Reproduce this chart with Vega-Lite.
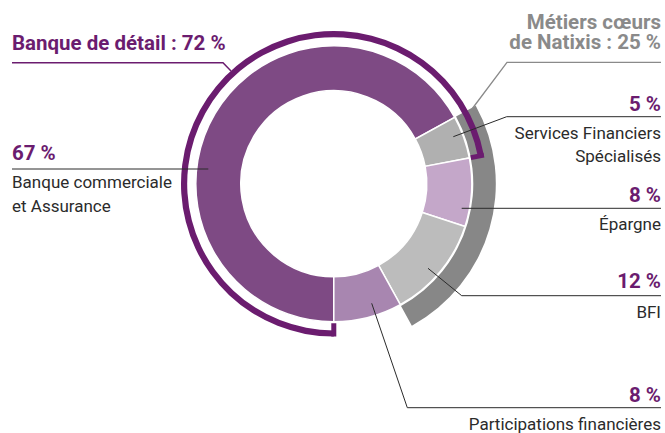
{
  "$schema": "https://vega.github.io/schema/vega-lite/v6.json",
  "width": 665,
  "height": 433,
  "autosize": {"type": "fit", "contains": "padding"},
  "padding": 0,
  "background": "#ffffff",
  "config": {"view": {"stroke": null}},
  "datasets": {
    "segments": [
      {"label": "Banque commerciale et Assurance", "value": 67, "idx": 1},
      {"label": "Services Financiers Spécialisés", "value": 5, "idx": 2},
      {"label": "Épargne", "value": 8, "idx": 3},
      {"label": "BFI", "value": 12, "idx": 4},
      {"label": "Participations financières", "value": 8, "idx": 5}
    ],
    "groups": [
      {"name": "Banque de détail", "start": 0, "end": 72},
      {"name": "Métiers cœurs de Natixis", "start": 67, "end": 92}
    ],
    "leaders": [
      {"id": "bd", "grp": "Banque de détail", "ord": 1, "x": 12, "y": 62.7},
      {"id": "bd", "grp": "Banque de détail", "ord": 2, "x": 223, "y": 62.7},
      {"id": "bd", "grp": "Banque de détail", "ord": 3, "x": 231, "y": 71},
      {"id": "mc", "grp": "Métiers cœurs de Natixis", "ord": 1, "x": 661, "y": 62.3},
      {"id": "mc", "grp": "Métiers cœurs de Natixis", "ord": 2, "x": 507, "y": 62.3},
      {"id": "mc", "grp": "Métiers cœurs de Natixis", "ord": 3, "x": 472, "y": 109},
      {"id": "sfs", "grp": "segment", "ord": 1, "x": 661, "y": 116.7},
      {"id": "sfs", "grp": "segment", "ord": 2, "x": 506.7, "y": 116.7},
      {"id": "sfs", "grp": "segment", "ord": 3, "x": 453.3, "y": 136.7},
      {"id": "ep", "grp": "segment", "ord": 1, "x": 661, "y": 208.3},
      {"id": "ep", "grp": "segment", "ord": 2, "x": 461.7, "y": 208.3},
      {"id": "bfi", "grp": "segment", "ord": 1, "x": 661, "y": 295.7},
      {"id": "bfi", "grp": "segment", "ord": 2, "x": 461.7, "y": 295.7},
      {"id": "bfi", "grp": "segment", "ord": 3, "x": 428, "y": 268.3},
      {"id": "pf", "grp": "segment", "ord": 1, "x": 661, "y": 407.7},
      {"id": "pf", "grp": "segment", "ord": 2, "x": 407.3, "y": 407.7},
      {"id": "pf", "grp": "segment", "ord": 3, "x": 371.7, "y": 303.3},
      {"id": "bca", "grp": "segment", "ord": 1, "x": 12, "y": 169},
      {"id": "bca", "grp": "segment", "ord": 2, "x": 208.3, "y": 169}
    ],
    "labels": [
      {"t": "Banque de détail : 72 %", "role": "group", "side": "left", "x": 12, "y": 49.5},
      {"t": "67 %", "role": "share", "side": "left", "x": 12, "y": 160},
      {"t": "Banque commerciale", "role": "name", "side": "left", "x": 12, "y": 188.3},
      {"t": "et Assurance", "role": "name", "side": "left", "x": 12, "y": 211.7},
      {"t": "Métiers cœurs", "role": "group", "side": "right", "x": 661, "y": 29.3},
      {"t": "de Natixis : 25 %", "role": "group", "side": "right", "x": 661, "y": 49.3},
      {"t": "5 %", "role": "share", "side": "right", "x": 661, "y": 110.7},
      {"t": "Services Financiers", "role": "name", "side": "right", "x": 661, "y": 139.3},
      {"t": "Spécialisés", "role": "name", "side": "right", "x": 661, "y": 161.7},
      {"t": "8 %", "role": "share", "side": "right", "x": 661, "y": 202.3},
      {"t": "Épargne", "role": "name", "side": "right", "x": 661, "y": 230},
      {"t": "12 %", "role": "share", "side": "right", "x": 661, "y": 288.3},
      {"t": "BFI", "role": "name", "side": "right", "x": 661, "y": 317.7},
      {"t": "8 %", "role": "share", "side": "right", "x": 661, "y": 401.7},
      {"t": "Participations financières", "role": "name", "side": "right", "x": 661, "y": 430}
    ]
  },
  "layer": [
    {
      "data": {"name": "segments"},
      "mark": {"type": "arc", "radius": 138, "radius2": 93, "stroke": "#ffffff", "strokeWidth": 1.5},
      "encoding": {
        "x": {"datum": 333.8, "type": "quantitative", "scale": {"domain": [0, 665], "nice": false, "zero": false}, "axis": null},
        "y": {"datum": 183.8, "type": "quantitative", "scale": {"domain": [0, 433], "nice": false, "zero": false, "reverse": true}, "axis": null},
        "theta": {"field": "value", "type": "quantitative", "stack": true, "scale": {"domain": [0, 100], "range": [3.141592653589793, 9.42477796076938]}},
        "order": {"field": "idx", "type": "quantitative"},
        "color": {"field": "label", "type": "nominal", "legend": null,
          "scale": {"domain": ["Banque commerciale et Assurance", "Services Financiers Spécialisés", "Épargne", "BFI", "Participations financières"],
                    "range": ["#7e4a84", "#b0b0b0", "#c4a7c9", "#bcbcbc", "#a886b0"]}}
      }
    },
    {
      "data": {"name": "groups"},
      "transform": [{"filter": "datum.name === 'Métiers cœurs de Natixis'"}],
      "mark": {"type": "arc", "radius": 162, "radius2": 139.5, "fill": "#878787"},
      "encoding": {
        "x": {"datum": 333.8, "type": "quantitative"},
        "y": {"datum": 183.8, "type": "quantitative"},
        "theta": {"field": "start", "type": "quantitative", "scale": {"domain": [0, 100], "range": [3.141592653589793, 9.42477796076938]}},
        "theta2": {"field": "end"}
      }
    },
    {
      "data": {"name": "groups"},
      "transform": [{"filter": "datum.name === 'Banque de détail'"}],
      "mark": {"type": "arc", "radius": 152.8, "radius2": 146.6, "fill": "#6b1c6f"},
      "encoding": {
        "x": {"datum": 333.8, "type": "quantitative"},
        "y": {"datum": 183.8, "type": "quantitative"},
        "theta": {"field": "start", "type": "quantitative", "scale": {"domain": [0, 100], "range": [3.141592653589793, 9.42477796076938]}},
        "theta2": {"field": "end"}
      }
    },
    {
      "data": {"name": "groups"},
      "transform": [{"filter": "datum.name === 'Banque de détail'"}],
      "mark": {"type": "arc", "radius": 152.8, "radius2": 139.5, "stroke": "#6b1c6f", "strokeWidth": 5, "fill": null},
      "encoding": {
        "x": {"datum": 333.8, "type": "quantitative"},
        "y": {"datum": 183.8, "type": "quantitative"},
        "theta": {"field": "start", "type": "quantitative", "scale": {"domain": [0, 100], "range": [3.141592653589793, 9.42477796076938]}},
        "theta2": {"field": "start"}
      }
    },
    {
      "data": {"name": "groups"},
      "transform": [{"filter": "datum.name === 'Banque de détail'"}],
      "mark": {"type": "arc", "radius": 152.8, "radius2": 139.5, "stroke": "#6b1c6f", "strokeWidth": 5, "fill": null},
      "encoding": {
        "x": {"datum": 333.8, "type": "quantitative"},
        "y": {"datum": 183.8, "type": "quantitative"},
        "theta": {"field": "end", "type": "quantitative", "scale": {"domain": [0, 100], "range": [3.141592653589793, 9.42477796076938]}},
        "theta2": {"field": "end"}
      }
    },
    {
      "data": {"name": "leaders"},
      "transform": [{"filter": "datum.grp === 'segment'"}],
      "mark": {"type": "line", "color": "#2b2b2b", "strokeWidth": 1},
      "encoding": {
        "x": {"field": "x", "type": "quantitative"},
        "y": {"field": "y", "type": "quantitative"},
        "detail": {"field": "id"},
        "order": {"field": "ord", "type": "quantitative"}
      }
    },
    {
      "data": {"name": "leaders"},
      "transform": [{"filter": "datum.grp === 'Banque de détail'"}],
      "mark": {"type": "line", "color": "#6b1c6f", "strokeWidth": 1.5},
      "encoding": {
        "x": {"field": "x", "type": "quantitative"},
        "y": {"field": "y", "type": "quantitative"},
        "detail": {"field": "id"},
        "order": {"field": "ord", "type": "quantitative"}
      }
    },
    {
      "data": {"name": "leaders"},
      "transform": [{"filter": "datum.grp === 'Métiers cœurs de Natixis'"}],
      "mark": {"type": "line", "color": "#8a8a8a", "strokeWidth": 1.3},
      "encoding": {
        "x": {"field": "x", "type": "quantitative"},
        "y": {"field": "y", "type": "quantitative"},
        "detail": {"field": "id"},
        "order": {"field": "ord", "type": "quantitative"}
      }
    },
    {
      "data": {"name": "labels"},
      "transform": [{"filter": "datum.side === 'left' && datum.role !== 'name'"}],
      "mark": {"type": "text", "align": "left", "baseline": "alphabetic", "font": "Roboto", "fontWeight": "bold", "fontSize": 20.5, "color": "#6b1c6f"},
      "encoding": {
        "x": {"field": "x", "type": "quantitative"},
        "y": {"field": "y", "type": "quantitative"},
        "text": {"field": "t"}
      }
    },
    {
      "data": {"name": "labels"},
      "transform": [{"filter": "datum.side === 'right' && datum.role === 'share'"}],
      "mark": {"type": "text", "align": "right", "baseline": "alphabetic", "font": "Roboto", "fontWeight": "bold", "fontSize": 20.5, "color": "#6b1c6f"},
      "encoding": {
        "x": {"field": "x", "type": "quantitative"},
        "y": {"field": "y", "type": "quantitative"},
        "text": {"field": "t"}
      }
    },
    {
      "data": {"name": "labels"},
      "transform": [{"filter": "datum.side === 'right' && datum.role === 'group'"}],
      "mark": {"type": "text", "align": "right", "baseline": "alphabetic", "font": "Roboto", "fontWeight": "bold", "fontSize": 20.5, "color": "#8a8a8a"},
      "encoding": {
        "x": {"field": "x", "type": "quantitative"},
        "y": {"field": "y", "type": "quantitative"},
        "text": {"field": "t"}
      }
    },
    {
      "data": {"name": "labels"},
      "transform": [{"filter": "datum.side === 'left' && datum.role === 'name'"}],
      "mark": {"type": "text", "align": "left", "baseline": "alphabetic", "font": "Roboto", "fontSize": 17, "color": "#2b2b2b"},
      "encoding": {
        "x": {"field": "x", "type": "quantitative"},
        "y": {"field": "y", "type": "quantitative"},
        "text": {"field": "t"}
      }
    },
    {
      "data": {"name": "labels"},
      "transform": [{"filter": "datum.side === 'right' && datum.role === 'name'"}],
      "mark": {"type": "text", "align": "right", "baseline": "alphabetic", "font": "Roboto", "fontSize": 17, "color": "#2b2b2b"},
      "encoding": {
        "x": {"field": "x", "type": "quantitative"},
        "y": {"field": "y", "type": "quantitative"},
        "text": {"field": "t"}
      }
    }
  ]
}
